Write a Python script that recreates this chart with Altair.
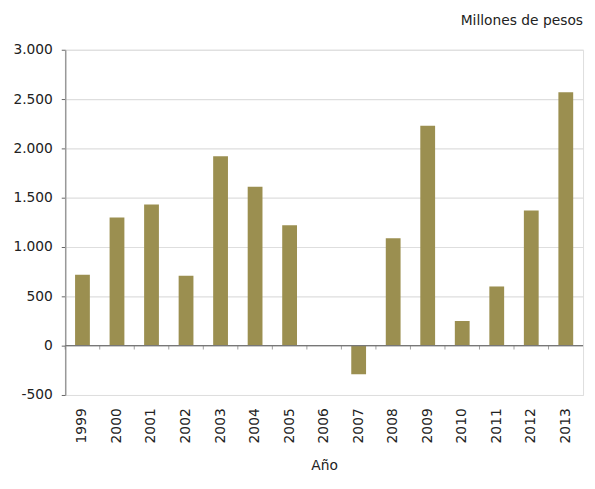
import altair as alt
import pandas as pd

years = ["1999", "2000", "2001", "2002", "2003", "2004", "2005", "2006",
         "2007", "2008", "2009", "2010", "2011", "2012", "2013"]
values = [720, 1300, 1430, 710, 1920, 1610, 1220, 5,
          -290, 1090, 2230, 250, 600, 1370, 2570]
y_ticks = [-500, 0, 500, 1000, 1500, 2000, 2500, 3000]
unit_label = "Millones de pesos"
x_title = "Año"

df = pd.DataFrame({"year": years, "value": values})

FONT = "DejaVu Sans"
W, H = 525, 350

xscale = alt.Scale(paddingInner=0, paddingOuter=0)
yscale = alt.Scale(domain=[-500, 3000], nice=False)

bars = alt.Chart(df).mark_bar(width=15, color="#9b8f50").encode(
    x=alt.X("year:O", scale=xscale, sort=years,
            axis=alt.Axis(title=x_title, labelAngle=270, domain=False, ticks=False,
                          labelPadding=13, labelFontSize=14, labelFont=FONT,
                          labelColor="#222", labelAlign="right", labelBaseline="middle",
                          titleFont=FONT, titleFontSize=14, titleFontWeight="normal",
                          titleColor="#222", titlePadding=16)),
    y=alt.Y("value:Q", scale=yscale,
            axis=alt.Axis(title=None, values=y_ticks,
                          labelExpr="replace(replace(format(datum.value, ','), ',', '.'), '\u2212', '-')",
                          labelFont=FONT, labelFontSize=14, labelColor="#222",
                          labelPadding=9, tickSize=4, tickColor="#666",
                          domainColor="#999", domainWidth=1.5,
                          grid=True, gridColor="#dedede", gridWidth=1.2)),
)

zero = alt.Chart(pd.DataFrame({"z": [0]})).mark_rule(color="#777", strokeWidth=1.2).encode(
    y=alt.Y("z:Q", scale=yscale)
)

ticks = alt.Chart(df).mark_tick(orient="vertical", size=4, color="#777", thickness=1, yOffset=2).encode(
    x=alt.X("year:O", sort=years, bandPosition=0, scale=xscale),
    y=alt.Y("zero:Q", scale=yscale),
).transform_calculate(zero="0")

label = alt.Chart(pd.DataFrame({"t": [unit_label]})).mark_text(
    align="right", baseline="middle", font=FONT, fontSize=14, color="#222"
).encode(x=alt.value(W), y=alt.value(-29), text="t:N")

chart = alt.layer(bars, zero, ticks, label).properties(
    width=W, height=H,
    autosize=alt.AutoSizeParams(type="none"),
    padding={"top": 39, "left": 58, "right": 4, "bottom": 92},
).configure_view(fill="#fafafa", stroke=None).configure(background="white")

chart.save("out.html", embed_options={"renderer": "svg", "actions": False})
